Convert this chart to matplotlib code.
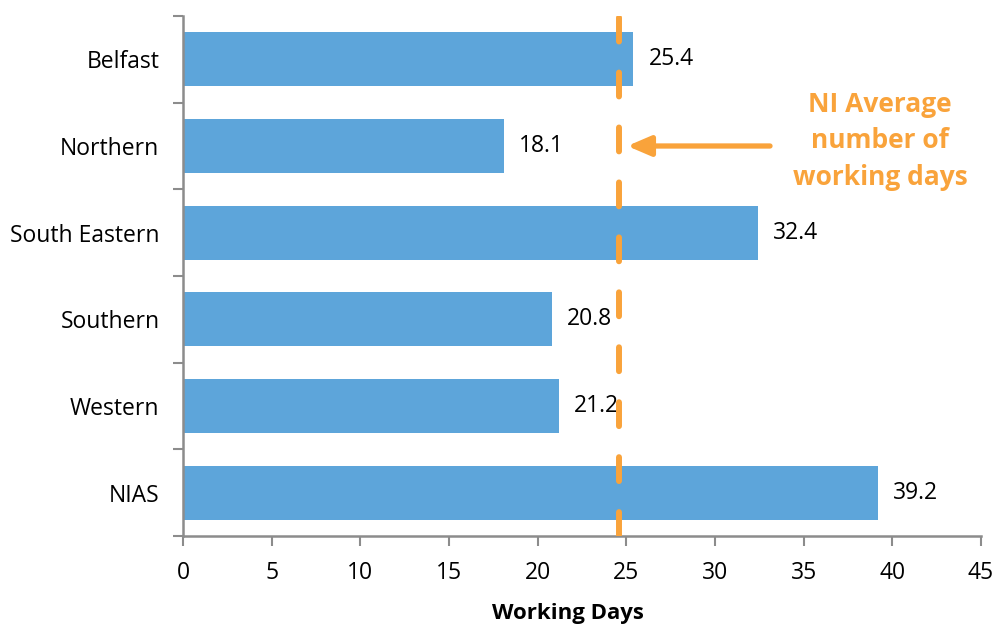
import numpy as np
import matplotlib.pyplot as plt
from matplotlib.ticker import FixedLocator

# data
regions = ['Belfast', 'Northern', 'South Eastern', 'Southern', 'Western', 'NIAS']
days = [25.4, 18.1, 32.4, 20.8, 21.2, 39.2]
ni_average = 24.6

bar_color = '#5DA5DA'
orange = '#F9A33B'
axis_grey = '#8C8C8C'

plt.rcParams['font.family'] = ['Open Sans', 'DejaVu Sans']

fig = plt.figure(figsize=(9.97, 6.25), dpi=100)
ax = fig.add_axes([0.1836, 0.1424, 0.8004, 0.832])

y = np.arange(len(regions))
ax.barh(y, days, height=0.62, color=bar_color, zorder=2)
for yi, v in zip(y, days):
    ax.text(v + 0.85, yi, f'{v:.1f}', va='center', ha='left', fontsize=16.5, color='black')

ax.set_xlim(0, 45)
ax.set_ylim(len(regions) - 0.5, -0.5)
ax.set_xticks(np.arange(0, 46, 5))
ax.set_yticks(y)
ax.set_yticklabels(regions, fontsize=16.5)
ax.yaxis.set_minor_locator(FixedLocator(np.arange(-0.5, len(regions), 1)))
ax.tick_params(axis='y', which='major', length=0, pad=17)
ax.tick_params(axis='y', which='minor', length=7, width=1.5, color=axis_grey)
ax.tick_params(axis='x', which='major', length=7, width=1.5, color=axis_grey, labelsize=16.5, pad=11)

for s in ['top', 'right']:
    ax.spines[s].set_visible(False)
for s in ['left', 'bottom']:
    ax.spines[s].set_color(axis_grey)
    ax.spines[s].set_linewidth(1.8)

# NI average line
ax.axvline(ni_average, color=orange, linewidth=4.3, linestyle=(0, (4.0, 5.2)),
           dash_capstyle='round', zorder=3)

ax.annotate('', xy=(ni_average + 0.45, 1), xytext=(33.1, 1),
            arrowprops=dict(arrowstyle='-|>,head_length=1.4,head_width=0.6',
                            color=orange, lw=3.8, shrinkA=0, shrinkB=0))
ax.text(39.3, 0.94, 'NI Average\nnumber of\nworking days', ha='center', va='center',
        fontsize=19, fontweight='bold', color=orange, linespacing=1.45)

fig.text(568 / 997, 1 - 614 / 625, 'Working Days', ha='center', va='center',
         fontsize=16, fontweight='bold')

fig.savefig('out.png', dpi=100)
